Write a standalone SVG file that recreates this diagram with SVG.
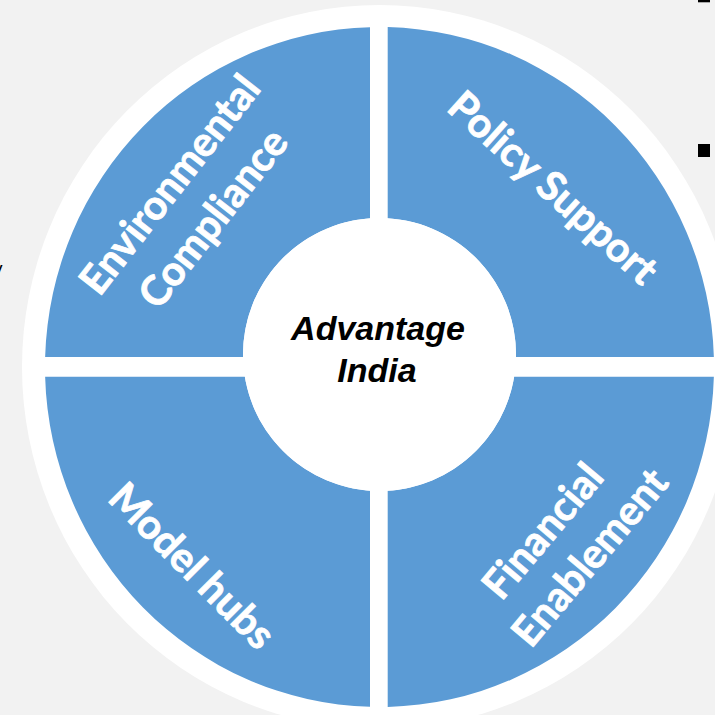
<svg xmlns="http://www.w3.org/2000/svg" width="715" height="715" viewBox="0 0 715 715">
<style>
.q{fill:#5B9BD5}
.lbl{font-family:Lato,"Open Sans","Liberation Sans",sans-serif;font-weight:700;font-size:41px;fill:#FFFFFF;stroke:#FFFFFF;stroke-width:0.8px;text-anchor:middle}
.ctr{font-family:"Liberation Sans",Arial,sans-serif;font-weight:700;font-style:italic;font-size:34px;fill:#000000;text-anchor:middle}
.frag{font-family:"Liberation Sans",Arial,sans-serif;font-size:19px;fill:#000000}
</style>
<rect x="0" y="0" width="715" height="715" fill="#F2F2F2"/>
<g id="fragments">
<rect x="698" y="-10" width="12" height="12.3" fill="#000000"/>
<rect x="698" y="144" width="12" height="13" fill="#000000"/>
<text class="frag" x="-7" y="275">y</text>
</g>
<g id="ring">
<ellipse cx="379.5" cy="367" rx="357.5" ry="362" fill="#FFFFFF"/>
</g>
<g id="connectors"></g>
<g id="environmental-compliance">
<path class="q" d="M370,27.14 A334.5,340 0 0 0 45.14,357 L243.02,357 A136.5,136.5 0 0 1 370,218.33 Z"/>
<g transform="translate(191.5,201.5) rotate(-52)">
<text class="lbl" x="0" y="-13.5">Environmental</text>
<text class="lbl" x="0" y="41.5">Compliance</text>
</g>
</g>
<g id="policy-support">
<path class="q" d="M387.7,27.1 A334.5,340 0 0 1 713.86,357 L515.98,357 A136.5,136.5 0 0 0 387.7,218.25 Z"/>
<g transform="translate(553,188) rotate(42)">
<text class="lbl" x="0" y="14">Policy Support</text>
</g>
</g>
<g id="model-hubs">
<path class="q" d="M45.14,376.7 A334.5,340 0 0 0 370,706.86 L370,490.67 A136.5,136.5 0 0 1 244.82,376.7 Z"/>
<g transform="translate(192,566) rotate(45)">
<text class="lbl" x="0" y="14">Model hubs</text>
</g>
</g>
<g id="financial-enablement">
<path class="q" d="M387.7,706.9 A334.5,340 0 0 0 713.86,376.7 L514.18,376.7 A136.5,136.5 0 0 1 387.7,490.75 Z"/>
<g transform="translate(566,544) rotate(-50)">
<text class="lbl" x="-5" y="-12">Financial</text>
<text class="lbl" x="5" y="41">Enablement</text>
</g>
</g>
<g id="advantage-india">
<circle cx="379.5" cy="354.5" r="136.5" fill="#FFFFFF"/>
<text class="ctr" x="378" y="340">Advantage</text>
<text class="ctr" x="377" y="382">India</text>
</g>
</svg>
